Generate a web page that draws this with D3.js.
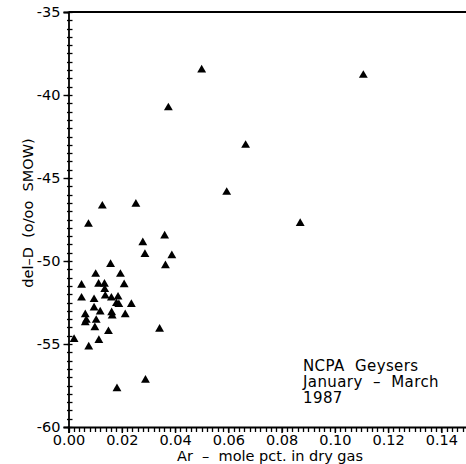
<!DOCTYPE html>
<html>
<head>
<meta charset="utf-8">
<script src="https://cdn.jsdelivr.net/npm/d3@7"></script>
<style>
  html, body { margin: 0; padding: 0; background: #fff; }
  svg { display: block; }
  text { font-family: "DejaVu Sans", "Liberation Sans", sans-serif; fill: #000; }
</style>
</head>
<body>
<svg id="chart" width="466" height="464"></svg>
<script>
// ---- data ----
const arMolePct = [0.0500, 0.0375, 0.0594, 0.0127, 0.0253, 0.0075, 0.0361, 0.1107, 0.0665, 0.0870,
  0.0279, 0.0287, 0.0388, 0.0364, 0.0158, 0.0102, 0.0195, 0.0049, 0.0113, 0.0135,
  0.0209, 0.0136, 0.0138, 0.0049, 0.0096, 0.0161, 0.0186, 0.0180, 0.0189, 0.0236,
  0.0096, 0.0119, 0.0162, 0.0164, 0.0213, 0.0063, 0.0067, 0.0063, 0.0104, 0.0099,
  0.0150, 0.0342, 0.0021, 0.0114, 0.0076, 0.0289, 0.0182];
const delD = [-38.49, -40.77, -45.86, -46.69, -46.58, -47.79, -48.49, -38.81, -43.03, -47.73,
  -48.90, -49.60, -49.68, -50.28, -50.20, -50.80, -50.80, -51.46, -51.40, -51.40,
  -51.42, -51.72, -52.11, -52.23, -52.32, -52.23, -52.17, -52.56, -52.62, -52.61,
  -52.83, -53.07, -53.11, -53.31, -53.23, -53.23, -53.57, -53.72, -53.57, -54.02,
  -54.25, -54.11, -54.72, -54.78, -55.17, -57.18, -57.69];
const xTicks = [0.00, 0.02, 0.04, 0.06, 0.08, 0.10, 0.12, 0.14];
const xTickLabels = ["0.00", "0.02", "0.04", "0.06", "0.08", "0.10", "0.12", "0.14"];
const yTicks = [-35, -40, -45, -50, -55, -60];
const yTickLabels = ["-35", "-40", "-45", "-50", "-55", "-60"];
const xTitle = "Ar  –  mole pct. in dry gas";
const yTitle = "del–D  (o/oo  SMOW)";
const annotation = ["NCPA  Geysers", "January  –  March", "1987"];

// ---- layout ----
const svg = d3.select("#chart");
const mLeft = 68.5, mRight = 468, mTop = 12, mBottom = 427;
const x = d3.scaleLinear().domain([0, 0.15]).range([mLeft, mRight]);
const y = d3.scaleLinear().domain([-60, -35]).range([mBottom, mTop]);
const FS = 14.5;

// minor tick positions (values)
const xMinor = d3.range(0, 76).map(k => k * 0.002);
const yMinor = d3.range(0, 51).map(k => -60 + k * 0.5);

// minor ticks drawn from the scales
svg.append("g").selectAll("line").data(xMinor).join("line")
  .attr("x1", d => Math.round(x(d)) + 0.5).attr("x2", d => Math.round(x(d)) + 0.5)
  .attr("y1", mBottom).attr("y2", mBottom + 5)
  .attr("stroke", "#000").attr("stroke-width", 1.3);
svg.append("g").selectAll("line").data(yMinor).join("line")
  .attr("y1", d => Math.round(y(d)) + 0.5).attr("y2", d => Math.round(y(d)) + 0.5)
  .attr("x1", mLeft - 1.5).attr("x2", mLeft + 4)
  .attr("stroke", "#000").attr("stroke-width", 1.3);

const gxMajor = svg.append("g").attr("transform", `translate(0,${mBottom})`);
gxMajor.call(d3.axisBottom(x).tickValues(xTicks).tickSize(6).tickPadding(2)
  .tickFormat((d, i) => xTickLabels[i]));
gxMajor.select(".domain").attr("stroke-width", 1.8);
gxMajor.selectAll(".tick line").attr("stroke-width", 1.4);
gxMajor.selectAll("text").attr("font-size", FS).attr("font-family", "DejaVu Sans").attr("fill", "#000");

const gyMajor = svg.append("g").attr("transform", `translate(${mLeft},0)`);
gyMajor.call(d3.axisLeft(y).tickValues(yTicks).tickSize(5).tickPadding(3)
  .tickFormat((d, i) => yTickLabels[i]));
gyMajor.select(".domain").attr("stroke-width", 1.8);
gyMajor.selectAll(".tick line").attr("stroke-width", 1.4);
gyMajor.selectAll("text").attr("font-size", FS).attr("font-family", "DejaVu Sans").attr("fill", "#000");

// top frame line
svg.append("line").attr("x1", mLeft).attr("x2", mRight).attr("y1", mTop).attr("y2", mTop)
  .attr("stroke", "#000").attr("stroke-width", 2);

// titles
svg.append("text").attr("x", 270).attr("y", 461).attr("text-anchor", "middle")
  .attr("font-size", FS).style("white-space", "pre").text(xTitle);
svg.append("text").attr("transform", "translate(33,213) rotate(-90)").attr("text-anchor", "middle")
  .attr("font-size", FS).style("white-space", "pre").text(yTitle);

// annotation
svg.append("g").selectAll("text").data(annotation).join("text")
  .attr("x", 303).attr("y", (d, i) => 370.5 + i * 16.3)
  .attr("font-size", 15).attr("letter-spacing", 0.4).style("white-space", "pre").text(d => d);

// points
const pts = arMolePct.map((v, i) => [v, delD[i]]);
svg.append("g").selectAll("path").data(pts).join("path")
  .attr("transform", d => `translate(${x(d[0])},${y(d[1])})`)
  .attr("d", d3.symbol(d3.symbolTriangle, 34))
  .attr("fill", "#000");
</script>
</body>
</html>
